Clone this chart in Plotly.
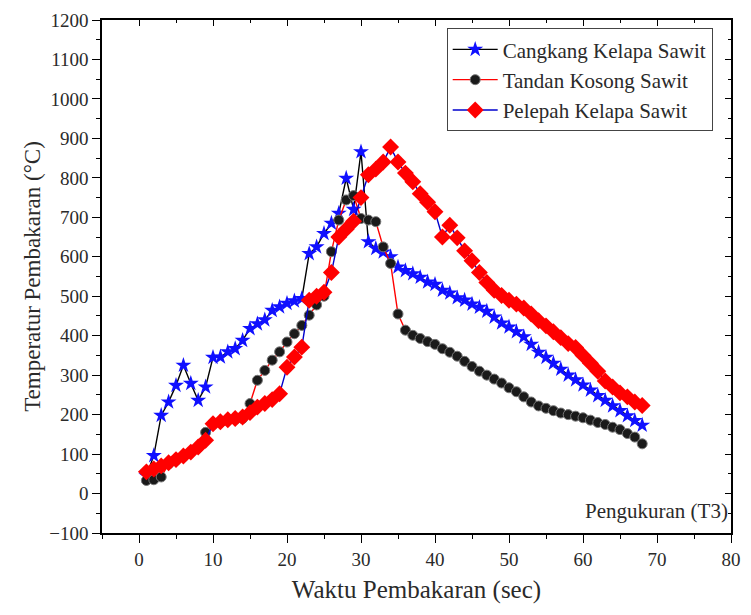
import plotly.graph_objects as go

t = list(range(1, 69))

cangkang = [45, 96, 198, 232, 274, 325, 279, 236, 270, 345,
            346, 359, 367, 388, 418, 430, 440, 464, 473, 482,
            488, 494, 608, 625, 659, 685, 710, 799, 720, 866,
            638, 621, 612, 600, 574, 565, 557, 548, 536, 530,
            515, 508, 496, 490, 480, 472, 462, 447, 432, 422,
            410, 397, 378, 358, 345, 330, 315, 300, 288, 275,
            262, 248, 236, 222, 210, 197, 185, 173]

tandan = [33, 35, 42, 75, 84, 93, 104, 116, 155, 175,
          180, 185, 188, 190, 228, 287, 312, 338, 359, 384,
          405, 426, 452, 478, 500, 613, 693, 744, 755, 697,
          693, 689, 625, 583, 455, 414, 401, 393, 385, 378,
          367, 358, 348, 335, 322, 310, 300, 290, 280, 268,
          258, 245, 232, 222, 216, 210, 204, 200, 196, 192,
          186, 180, 175, 168, 162, 152, 143, 126]

pelepah = [55, 62, 70, 78, 86, 95, 105, 118, 135, 177,
           182, 187, 190, 194, 205, 219, 228, 238, 253, 320,
           346, 371, 490, 500, 510, 560, 650, 670, 690, 750,
           808, 822, 840, 878, 840, 812, 790, 760, 738, 714,
           650, 680, 648, 615, 590, 560, 535, 515, 502, 490,
           480, 470, 455, 438, 425, 410, 395, 380, 370, 350,
           330, 310, 285, 270, 255, 245, 232, 223]

names = ["Cangkang Kelapa Sawit", "Tandan Kosong Sawit", "Pelepah Kelapa Sawit"]

FONT = "Liberation Serif"
TXT = "#2a2a2a"

fig = go.Figure()
fig.add_trace(go.Scatter(
    x=t, y=cangkang, name=names[0], mode="lines+markers",
    line=dict(color="black", width=1.4),
    marker=dict(symbol="star", size=12, color="#1010ff", line=dict(width=0)),
))
fig.add_trace(go.Scatter(
    x=t, y=tandan, name=names[1], mode="lines+markers",
    line=dict(color="#ff0000", width=1.4),
    marker=dict(symbol="circle", size=10, color="#1a1a1a",
                line=dict(color="#777777", width=1)),
))
fig.add_trace(go.Scatter(
    x=t, y=pelepah, name=names[2], mode="lines+markers",
    line=dict(color="#0000cc", width=1.4),
    marker=dict(symbol="diamond", size=13, color="#ff0000", line=dict(width=0)),
))
# invisible trace to activate mirrored axes with inward ticks
fig.add_trace(go.Scatter(x=[None], y=[None], xaxis="x2", yaxis="y2",
                         showlegend=False, hoverinfo="skip"))

axis_common = dict(showgrid=False, zeroline=False, linecolor="black", linewidth=1.5,
                   tickcolor="black", tickfont=dict(family=FONT, size=19, color=TXT))

fig.update_layout(
    width=751, height=615,
    margin=dict(l=102, r=10, t=20, b=82),
    paper_bgcolor="white", plot_bgcolor="white",
    font=dict(family=FONT, color=TXT),
    xaxis=dict(range=[-5, 80], dtick=10, tick0=0, ticks="outside", ticklen=8,
               minor=dict(dtick=5, ticks="outside", ticklen=4, tickcolor="black"),
               title=dict(text="Waktu Pembakaran (sec)", font=dict(family=FONT, size=25, color=TXT),
                          standoff=12),
               **axis_common),
    yaxis=dict(range=[-100, 1200], dtick=100, tick0=0, ticks="outside", ticklen=8,
               minor=dict(dtick=50, ticks="outside", ticklen=4, tickcolor="black"),
               title=dict(text="Temperatur Pembakaran (°C)", font=dict(family=FONT, size=23, color=TXT),
                          standoff=2),
               **axis_common),
    xaxis2=dict(range=[-5, 80], dtick=10, tick0=0, overlaying="x", side="top",
                ticks="inside", ticklen=6, showticklabels=False,
                minor=dict(dtick=5, ticks="inside", ticklen=3, tickcolor="black"),
                showgrid=False, zeroline=False, linecolor="black", linewidth=1.5,
                tickcolor="black"),
    yaxis2=dict(range=[-100, 1200], dtick=100, tick0=0, overlaying="y", side="right",
                ticks="inside", ticklen=6, showticklabels=False,
                minor=dict(dtick=50, ticks="inside", ticklen=3, tickcolor="black"),
                showgrid=False, zeroline=False, linecolor="black", linewidth=1.5,
                tickcolor="black"),
    legend=dict(x=0.548, y=0.984, xanchor="left", yanchor="top",
                bgcolor="white", bordercolor="#444", borderwidth=1,
                font=dict(family=FONT, size=21, color=TXT),
                itemwidth=45, tracegroupgap=0),
    showlegend=True,
    annotations=[dict(text="Pengukuran (T3)", xref="paper", yref="paper",
                      x=0.998, y=0.015, xanchor="right", yanchor="bottom",
                      showarrow=False, font=dict(family=FONT, size=21, color=TXT))],
)

fig.write_html("out.html")
